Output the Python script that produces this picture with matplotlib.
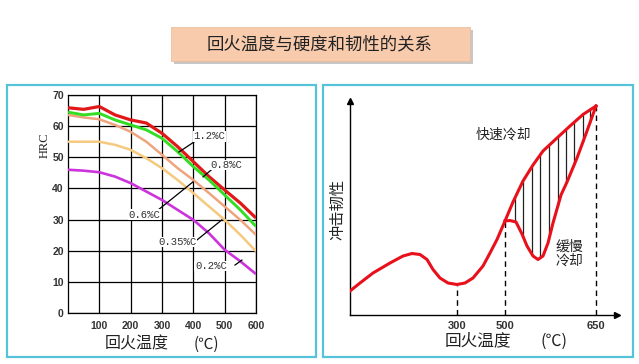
import matplotlib
matplotlib.use("Agg")
import matplotlib.pyplot as plt
import numpy as np
from matplotlib.patches import Rectangle

plt.rcParams['font.family'] = ['Noto Sans CJK SC', 'DejaVu Sans']

# ---- left chart: hardness vs tempering temperature
temp = [0, 50, 100, 150, 200, 250, 300, 350, 400, 450, 500, 550, 600]
hrc_12 = [65.9, 65.4, 66.3, 63.6, 62.0, 61.0, 57.7, 53.4, 48.6, 43.8, 39.5, 35.3, 30.5]
hrc_08 = [64.5, 63.6, 64.1, 62.0, 60.4, 58.8, 56.1, 51.8, 47.0, 42.7, 37.9, 33.1, 27.8]
hrc_06 = [63.6, 62.8, 62.2, 60.4, 58.2, 55.0, 50.8, 46.5, 42.7, 38.5, 34.2, 29.9, 25.1]
hrc_035 = [55.0, 55.0, 55.0, 54.0, 52.4, 49.7, 46.5, 42.7, 38.5, 34.2, 29.9, 25.1, 19.8]
hrc_02 = [46.0, 45.7, 45.2, 43.8, 41.7, 39.0, 36.3, 33.1, 29.9, 25.6, 20.3, 16.6, 12.5]
carbon_labels = ["1.2%C", "0.8%C", "0.6%C", "0.35%C", "0.2%C"]
x_ticks = [100, 200, 300, 400, 500, 600]
y_ticks = [0, 10, 20, 30, 40, 50, 60, 70]

# ---- right chart: toughness (schematic, axis units)
fast_x = [0, 10, 23, 40, 53, 62, 70, 77, 83, 90, 98, 107, 115, 123, 133, 140, 147,
          155, 163, 173, 183, 193, 207, 220, 233, 246]
fast_y = [24, 32, 42, 52, 59, 61.5, 60.5, 55.5, 45.5, 37, 32, 30.5, 32, 37, 49, 62, 75.5,
          94, 113, 134, 150, 164, 177, 189, 200.5, 209]
slow_x = [155, 160, 166, 172, 177, 183, 188, 193, 198, 203, 207, 211, 217, 227, 237, 246]
slow_y = [94, 94.5, 93, 81, 69, 59, 55.5, 59, 72, 92, 106, 120, 133, 157, 184, 209]
hatch_x = [165, 173, 182, 190, 199, 208, 216, 224, 233, 240]
r_tick_pos = [107, 155, 246]
r_tick_lab = ["300", "500", "650"]

fig = plt.figure(figsize=(6.39, 3.64), dpi=100)
W, H = 639, 364


def fr(x0, y0, x1, y1):
    # pixel box -> figure fraction [left, bottom, width, height]
    return [x0 / W, 1 - y1 / H, (x1 - x0) / W, (y1 - y0) / H]


def px(x, y):
    return x / W, 1 - y / H


# frames
for box in (fr(7, 85, 316, 357), fr(323, 85, 633, 357)):
    fig.patches.append(Rectangle(box[:2], box[2], box[3], transform=fig.transFigure,
                                 fill=False, ec="#55C3D9", lw=1.6))

# title box with shadow
sb = fr(174, 30, 473, 64)
fig.patches.append(Rectangle(sb[:2], sb[2], sb[3], transform=fig.transFigure,
                             fc="#B0B0B0", ec="none", alpha=0.7))
tb = fr(171, 27, 470, 61)
fig.patches.append(Rectangle(tb[:2], tb[2], tb[3], transform=fig.transFigure,
                             fc="#F8CBAD", ec="#E8B898", lw=0.5))
fig.text(*px(320, 44), "回火温度与硬度和韧性的关系", ha="center", va="center",
         fontsize=12.5, color="#222222")

# ---- left axes
ax = fig.add_axes(fr(68, 95, 256, 313))
series = [(hrc_035, "#F5C97E", 1.8), (hrc_06, "#EFA47E", 1.8), (hrc_02, "#CC33DD", 1.9),
          (hrc_12, "#E01818", 2.3), (hrc_08, "#33DD22", 2.1)]
for ys, col, lw in series:
    ax.plot(temp, ys, color=col, lw=lw, solid_capstyle="butt", zorder=3)
ax.set_xlim(0, 600)
ax.set_ylim(0, 70)
ax.set_xticks(x_ticks)
ax.set_yticks(y_ticks)
ax.grid(True, color="black", lw=0.9)
ax.set_axisbelow(True)
ax.tick_params(axis="y", length=0, labelsize=7.5, pad=3)
ax.tick_params(axis="x", length=0, labelsize=7.5, pad=6)
for lab in ax.get_xticklabels() + ax.get_yticklabels():
    lab.set_fontfamily("Liberation Sans")
    lab.set_fontweight("bold")
    lab.set_color("#333333")
for s in ax.spines.values():
    s.set_color("black")
    s.set_linewidth(0.9)

# curve labels and leader lines (data coords)
lab_pos = [(400, 56.8), (453, 47.5), (192, 31.5), (287, 22.8), (405, 15.1)]
leaders = [((402, 54.9), (354, 51.7)), ((460, 46.2), (431, 43.7)),
           ((284, 32.8), (399, 42.1)), ((411, 23.4), (491, 29.9)),
           ((533, 15.4), (555, 17.0))]
for txt, (lx, ly), (p0, p1) in zip(carbon_labels, lab_pos, leaders):
    ax.text(lx, ly, txt, fontsize=7.7, family="Liberation Mono", color="#333333",
            ha="left", va="center", zorder=5,
            bbox=dict(fc="white", ec="none", pad=0.3))
    ax.plot([p0[0], p1[0]], [p0[1], p1[1]], color="black", lw=0.9, zorder=4)

fig.text(*px(45, 145), "HRC", rotation=90, ha="center", va="center",
         family="Liberation Serif", fontsize=9, color="#222222")
fig.text(*px(137, 344), "回火温度", ha="center", va="center", fontsize=11.5, color="#222222")
fig.text(*px(206, 344), "(℃)", ha="center", va="center", fontsize=11, color="#222222")

# ---- right axes
ax2 = fig.add_axes(fr(350, 101, 617, 315))
ax2.set_xlim(0, 267)
ax2.set_ylim(0, 214)
ax2.plot(fast_x, fast_y, color="#E8101A", lw=2.2, zorder=3)
ax2.plot(slow_x, slow_y, color="#E8101A", lw=2.2, zorder=3)
ax2.vlines(hatch_x, np.interp(hatch_x, slow_x, slow_y), np.interp(hatch_x, fast_x, fast_y),
           color="#222222", lw=0.9, zorder=2)
ax2.vlines(r_tick_pos, 0, np.interp(r_tick_pos, fast_x, fast_y), color="black",
           lw=1.0, linestyles=(0, (4, 3)), zorder=1)
ax2.set_xticks(r_tick_pos)
ax2.set_xticklabels(r_tick_lab)
ax2.set_yticks([])
ax2.tick_params(length=0, labelsize=8, pad=4)
for lab in ax2.get_xticklabels():
    lab.set_fontfamily("Liberation Sans")
    lab.set_fontweight("bold")
    lab.set_color("#333333")
for side in ("top", "right"):
    ax2.spines[side].set_visible(False)
for side in ("left", "bottom"):
    ax2.spines[side].set_linewidth(1.0)
ax2.plot(1, 0, ">", color="black", ms=5, transform=ax2.transAxes, clip_on=False)
ax2.plot(0, 1, "^", color="black", ms=5, transform=ax2.transAxes, clip_on=False)
ax2.text(153, 180, "快速冷却", ha="center", va="center", fontsize=10, color="#222222")
ax2.text(219, 61, "缓慢\n冷却", ha="center", va="center", fontsize=10, color="#222222",
         linespacing=1.0)

fig.text(*px(338, 210), "冲击韧性", rotation=90, ha="center", va="center",
         fontsize=11, color="#222222")
fig.text(*px(478, 341), "回火温度", ha="center", va="center", fontsize=12, color="#222222")
fig.text(*px(554, 341), "(℃)", ha="center", va="center", fontsize=11.5, color="#222222")

fig.savefig("out.png", dpi=100)
